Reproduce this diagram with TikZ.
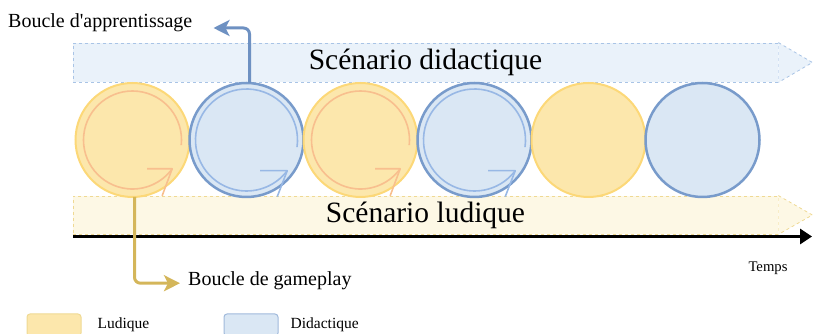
\documentclass[tikz,border=0pt]{standalone}
\usepackage{fontspec}
\setmainfont{Liberation Serif}
\newfontfamily\plainserif{Liberation Serif}
\usetikzlibrary{arrows.meta,positioning}
\definecolor{didFill}{HTML}{EAF2FA}
\definecolor{didDash}{HTML}{A9C4E6}
\definecolor{ludFill}{HTML}{FDF8E5}
\definecolor{ludDash}{HTML}{EFD993}
\definecolor{ludCircFill}{HTML}{FCE7AC}
\definecolor{ludCircLine}{HTML}{FCD878}
\definecolor{didCircFill}{HTML}{DAE7F4}
\definecolor{didCircLine}{HTML}{789BCB}
\definecolor{ludLoopCol}{HTML}{F8BF8E}
\definecolor{didLoopCol}{HTML}{98B8E5}
\definecolor{learnCol}{HTML}{6E91C2}
\definecolor{gameCol}{HTML}{D4B65A}
\tikzset{scenBar/.style={rectangle,dashed,line width=0.8pt,inner sep=0,minimum width=705pt,font=\fontsize{29.5pt}{34pt}\selectfont}}
\tikzset{didBar/.style={scenBar,draw=didDash,fill=didFill,minimum height=39pt}}
\tikzset{ludBar/.style={scenBar,draw=ludDash,fill=ludFill,minimum height=38pt}}
\tikzset{ludCircle/.style={circle,draw=ludCircLine,fill=ludCircFill,line width=2pt,minimum size=114pt,inner sep=0,outer sep=0}}
\tikzset{didCircle/.style={circle,draw=didCircLine,fill=didCircFill,line width=2.5pt,minimum size=114pt,inner sep=0,outer sep=0}}
\tikzset{loopLine/.style={line width=1.6pt,line join=round}}
\tikzset{ludLoop/.style={loopLine,draw=ludLoopCol}}
\tikzset{didLoop/.style={loopLine,draw=didLoopCol}}
\tikzset{toLabel/.style={line width=3pt,rounded corners=6pt,-{Stealth[length=16pt,width=16pt,inset=4pt]}}}
\tikzset{timeAxis/.style={line width=3.5pt,-{Triangle[length=12pt,width=15pt]}}}
\tikzset{bigText/.style={inner sep=0,font=\plainserif\fontsize{20pt}{24pt}\selectfont}}
\tikzset{smallText/.style={inner sep=0,font=\fontsize{14.7pt}{18pt}\selectfont}}
\tikzset{keyText/.style={inner sep=0,font=\fontsize{15.5pt}{18pt}\selectfont}}
\tikzset{keyBox/.style={rectangle,rounded corners=3pt,line width=1pt,minimum width=54pt,minimum height=22pt}}

\begin{document}
\begin{tikzpicture}[x=1pt,y=1pt]
\useasboundingbox (0,0) rectangle (813,334);
\clip (0,0) rectangle (813,334);
% the two scenario bars
\node (scenDid) [didBar] at (425.5,271.5) {Scénario didactique};
\fill[didFill] (scenDid.north east) -- ([xshift=34pt]scenDid.east) -- (scenDid.south east);
\draw[didDash,dashed,line width=0.8pt] (scenDid.north east) -- ([xshift=34pt]scenDid.east) -- (scenDid.south east);
\node (scenLud) [ludBar] at (425.5,119) {Scénario ludique};
\fill[ludFill] (scenLud.north east) -- ([xshift=34pt]scenLud.east) -- (scenLud.south east);
\draw[ludDash,dashed,line width=0.8pt] (scenLud.north east) -- ([xshift=34pt]scenLud.east) -- (scenLud.south east);
% the loops
\begin{scope}[node distance=0pt]
	\node (c1) [ludCircle] at (132.5,194) {};
	\node (c2) [didCircle, right =of c1] {};
	\node (c3) [ludCircle, right =of c2] {};
	\node (c4) [didCircle, right =of c3] {};
	\node (c5) [ludCircle, right =of c4] {};
	\node (c6) [didCircle, right =of c5] {};
\end{scope}
\draw[ludLoop] (c1.center) ++(-6:49) arc[start angle=-6,end angle=324,radius=49] coordinate (t1);
\draw[ludLoop] ([xshift=-25pt]t1) -- (t1) -- ++(-10,-27);
\draw[didLoop] (c2.center) ++(-8:51) arc[start angle=-8,end angle=323,radius=51] coordinate (t2);
\draw[didLoop] ([xshift=-27pt]t2) -- (t2) -- ++(-10,-26);
\draw[ludLoop] (c3.center) ++(-6:49) arc[start angle=-6,end angle=324,radius=49] coordinate (t3);
\draw[ludLoop] ([xshift=-25pt]t3) -- (t3) -- ++(-10,-27);
\draw[didLoop] (c4.center) ++(-8:51) arc[start angle=-8,end angle=323,radius=51] coordinate (t4);
\draw[didLoop] ([xshift=-27pt]t4) -- (t4) -- ++(-10,-26);
% time
\coordinate (tStart) at (73,97.5);
\coordinate (tEnd) at (812,97.5);
\draw[timeAxis] (tStart) -- (tEnd);
\node (temps) [smallText, anchor=base] at (768,62) {Temps};
% loop labels
\node (appr) [bigText, anchor=base west] at (8,306) {Boucle d'apprentissage};
\node (game) [bigText, anchor=base west] at (188,48) {Boucle de gameplay};
\draw[toLabel, learnCol, shorten >=21pt] ([xshift=3pt]c2.north) |- (appr.base east);
\draw[toLabel, gameCol, shorten >=8pt] ([xshift=2pt]c1.south) |- ([yshift=-2pt]game.west);
% legend
\node (ludKey) [keyBox, draw=ludDash, fill=ludCircFill] at (54,9) {};
\node (ludKeyText) [keyText, right =16pt of ludKey] {Ludique};
\node (didKey) [keyBox, draw=didCircLine!70, fill=didCircFill] at (251,9) {};
\node (didKeyText) [keyText, right =12pt of didKey] {Didactique};
\end{tikzpicture}
\end{document}
